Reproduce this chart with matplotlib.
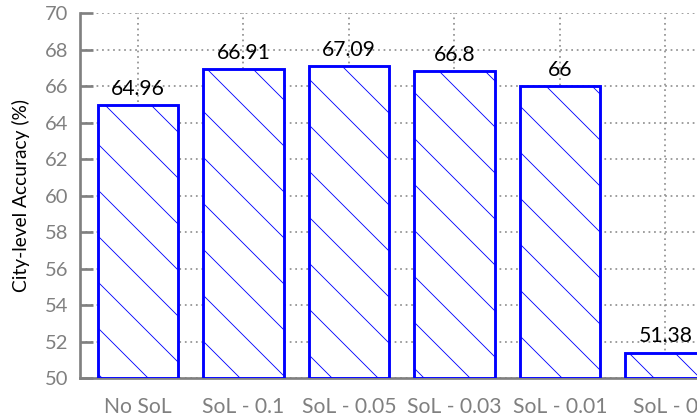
import matplotlib
matplotlib.use("Agg")
import matplotlib.pyplot as plt

categories = ["No SoL", "SoL - 0.1", "SoL - 0.05", "SoL - 0.03", "SoL - 0.01", "SoL - 0"]
values = [64.96, 66.91, 67.09, 66.8, 66, 51.38]
value_labels = ["64.96", "66.91", "67.09", "66.8", "66", "51.38"]
yticks = [50, 52, 54, 56, 58, 60, 62, 64, 66, 68, 70]

DPI = 138
plt.rcParams['font.family'] = ['Lato', 'DejaVu Sans']
plt.rcParams['hatch.linewidth'] = 0.45
plt.rcParams['hatch.color'] = 'blue'

fig = plt.figure(figsize=(697 / DPI, 417 / DPI), dpi=DPI)
ax = fig.add_axes([0.1148, 0.0935, 0.8852, 0.8753])

x = list(range(len(categories)))
bars = ax.bar(x, [v - 50 for v in values], bottom=50, width=0.76, facecolor='white',
              edgecolor='blue', linewidth=1.5, hatch='\\', zorder=3, clip_on=True)
for b in bars:
    b._hatch_color = (0, 0, 1, 1)

for xi, v, lab in zip(x, values, value_labels):
    ax.text(xi, v + 0.35, lab, ha='center', va='bottom', fontsize=11, color='black', zorder=4)

ax.set_xlim(-0.55, 5.3)
ax.set_ylim(50, 70)
ax.set_yticks(yticks)
ax.set_xticks(x)
ax.set_xticklabels(categories)
ax.grid(True, color='#909090', linestyle=(0, (1, 2.2)), linewidth=0.9, zorder=0)
ax.set_axisbelow(True)
for s in ['top', 'right']:
    ax.spines[s].set_visible(False)
for s in ['left', 'bottom']:
    ax.spines[s].set_color('#808080')
    ax.spines[s].set_linewidth(1.4)
ax.tick_params(axis='y', direction='in', length=7, width=1.4, color='#808080',
               labelcolor='#808080', labelsize=10.5, pad=6)
ax.tick_params(axis='x', length=0, labelcolor='#808080', labelsize=11, pad=10)
ax.set_ylabel("City-level Accuracy (%)", fontsize=10, color='black', labelpad=8)

fig.savefig("out.png", dpi=DPI)
